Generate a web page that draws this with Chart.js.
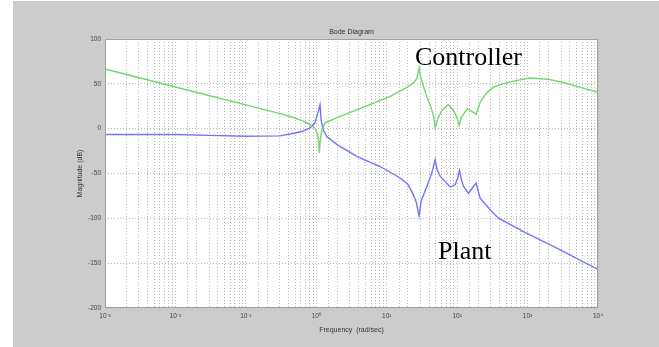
<!DOCTYPE html>
<html>
<head>
<meta charset="utf-8">
<script src="https://cdn.jsdelivr.net/npm/chart.js@4"></script>
<style>
    body { margin: 0; background: #ffffff; }
    #wrap { width: 659px; height: 347px; position: relative; }
</style>
</head>
<body>
<div id="wrap"><canvas id="bodeChart"></canvas></div>
<script>
// Controller magnitude (rad/sec, dB)
const ctrlFreq = [0.001, 0.01, 0.1, 0.316, 0.427, 0.631, 0.794, 0.96, 1.047, 1.084, 1.107, 1.135, 1.19, 1.33,
    2.18, 3.76, 11.2, 19.3, 24, 26.9, 28.8, 30.9, 33.9, 37.1, 43.6, 46.8, 48.8, 52.5, 60.3, 74.5, 89, 100, 107,
    115, 139, 158, 186, 214, 263, 324, 447, 624, 1089, 1995, 3206, 5623, 10000];
const ctrlMag = [66.5, 46.5, 26.5, 16.5, 13.6, 9, 5, 0.6, -7, -16, -27, -14, -3, 6.5,
    13.6, 21, 36, 46, 51, 56, 67.6, 55, 45, 36, 21, 12, 1, 10, 20, 27, 20, 12, 4,
    13, 22, 20, 16, 30, 40, 46, 50, 53, 56.5, 55, 51.5, 46, 40.5];

// Plant magnitude (rad/sec, dB)
const plantFreq = [0.001, 0.01, 0.03, 0.1, 0.3, 0.427, 0.6, 0.81, 0.95, 1.016, 1.07, 1.13, 1.17, 1.25, 1.41,
    2.0, 3.76, 8.05, 15.5, 20, 23.9, 26.3, 28.8, 31, 37.1, 43.6, 48.8, 52, 57.4, 79.6, 93.8, 102, 108,
    116, 123, 145, 170, 186, 212, 294, 386, 875, 2606, 10000];
const plantMag = [-6.5, -6.5, -7.5, -8.5, -8, -6, -3.5, 0.7, 6, 13.6, 19, 26.7, 10, -1, -8.7,
    -18, -31, -42.2, -55, -62, -73.8, -82, -97, -80, -64.5, -49.6, -34.7, -46, -53, -65, -62.6, -55, -46.6,
    -58, -64.5, -72, -64.5, -60.7, -77.5, -90.5, -99.8, -114.7, -133.3, -157];

// Axis tick labels
const yTicks = [100, 50, 0, -50, -100, -150, -200];
const xDecades = [-3, -2, -1, 0, 1, 2, 3, 4];

const supers = { '-': '\u207B', '0': '\u2070', '1': '\u00B9', '2': '\u00B2', '3': '\u00B3', '4': '\u2074' };
function powerLabel(exp) {
    return '10' + String(exp).split('').map(c => supers[c]).join('');
}

function toPoints(freq, mag) {
    return freq.map((f, i) => ({ x: f, y: mag[i] }));
}

// Figure background, white axes box and frame
const figurePlugin = {
    id: 'figure',
    beforeDraw(chart) {
        const { ctx, chartArea } = chart;
        ctx.save();
        ctx.fillStyle = '#ffffff';
        ctx.fillRect(0, 0, chart.width, chart.height);
        ctx.fillStyle = '#cccccc';
        ctx.fillRect(13, 1, chart.width - 13, chart.height - 1);
        ctx.fillStyle = '#ffffff';
        ctx.fillRect(chartArea.left, chartArea.top, chartArea.right - chartArea.left, chartArea.bottom - chartArea.top);
        ctx.restore();
    },
    afterDraw(chart) {
        const { ctx, chartArea } = chart;
        ctx.save();
        ctx.strokeStyle = '#a0a0a0';
        ctx.lineWidth = 1;
        ctx.strokeRect(chartArea.left + 0.5, chartArea.top + 0.5,
            chartArea.right - chartArea.left - 1, chartArea.bottom - chartArea.top - 1);
        // curve names
        ctx.fillStyle = '#000000';
        ctx.font = '26px "Liberation Serif", "Times New Roman", serif';
        ctx.textBaseline = 'alphabetic';
        ctx.fillText('Controller', 415, 65);
        ctx.fillText('Plant', 438, 259);
        ctx.restore();
    }
};

const ctx = document.getElementById('bodeChart');

new Chart(ctx, {
    type: 'line',
    data: {
        datasets: [{
            label: 'Controller',
            data: toPoints(ctrlFreq, ctrlMag),
            borderColor: 'rgba(110, 215, 110, 1)',
            borderWidth: 1.4,
            pointRadius: 0,
            tension: 0
        }, {
            label: 'Plant',
            data: toPoints(plantFreq, plantMag),
            borderColor: 'rgba(115, 115, 255, 1)',
            borderWidth: 1.4,
            pointRadius: 0,
            tension: 0
        }]
    },
    options: {
        responsive: true,
        maintainAspectRatio: false,
        animation: false,
        layout: {
            padding: { left: 0, right: 61, top: 0, bottom: 0 }
        },
        plugins: {
            legend: { display: false },
            tooltip: { enabled: false },
            title: {
                display: true,
                text: 'Bode Diagram',
                fullSize: false,
                color: '#333333',
                font: { family: '"Liberation Sans", Arial, sans-serif', size: 7, weight: 'normal' },
                padding: { top: 28, bottom: 2.6 }
            }
        },
        scales: {
            x: {
                type: 'logarithmic',
                min: 0.001,
                max: 10000,
                afterFit: (scale) => { scale.height = 39; },
                border: { display: false, dash: [1, 2] },
                grid: { color: '#b8b8b8', drawTicks: false },
                ticks: {
                    autoSkip: false,
                    maxRotation: 0,
                    padding: 4,
                    color: '#444444',
                    font: { family: '"Liberation Sans", Arial, sans-serif', size: 6.5 },
                    callback: (value) => {
                        const exp = Math.round(Math.log10(value));
                        if (Math.abs(Math.log10(value) - exp) < 1e-6 && xDecades.includes(exp)) {
                            return powerLabel(exp);
                        }
                        return '';
                    }
                },
                title: {
                    display: true,
                    text: 'Frequency  (rad/sec)',
                    color: '#333333',
                    font: { family: '"Liberation Sans", Arial, sans-serif', size: 7 },
                    padding: { top: 0, bottom: 13 }
                }
            },
            y: {
                type: 'linear',
                min: -200,
                max: 100,
                afterFit: (scale) => { scale.width = 105; },
                afterBuildTicks: (scale) => {
                    scale.ticks = yTicks.map(v => ({ value: v }));
                },
                border: { display: false, dash: [1, 2] },
                grid: { color: '#b8b8b8', drawTicks: false },
                ticks: {
                    padding: 4,
                    color: '#444444',
                    font: { family: '"Liberation Sans", Arial, sans-serif', size: 6.5 }
                },
                title: {
                    display: true,
                    text: 'Magnitude (dB)',
                    color: '#333333',
                    font: { family: '"Liberation Sans", Arial, sans-serif', size: 7 },
                    padding: { top: 76, bottom: 0 }
                }
            }
        }
    },
    plugins: [figurePlugin]
});
</script>
</body>
</html>
